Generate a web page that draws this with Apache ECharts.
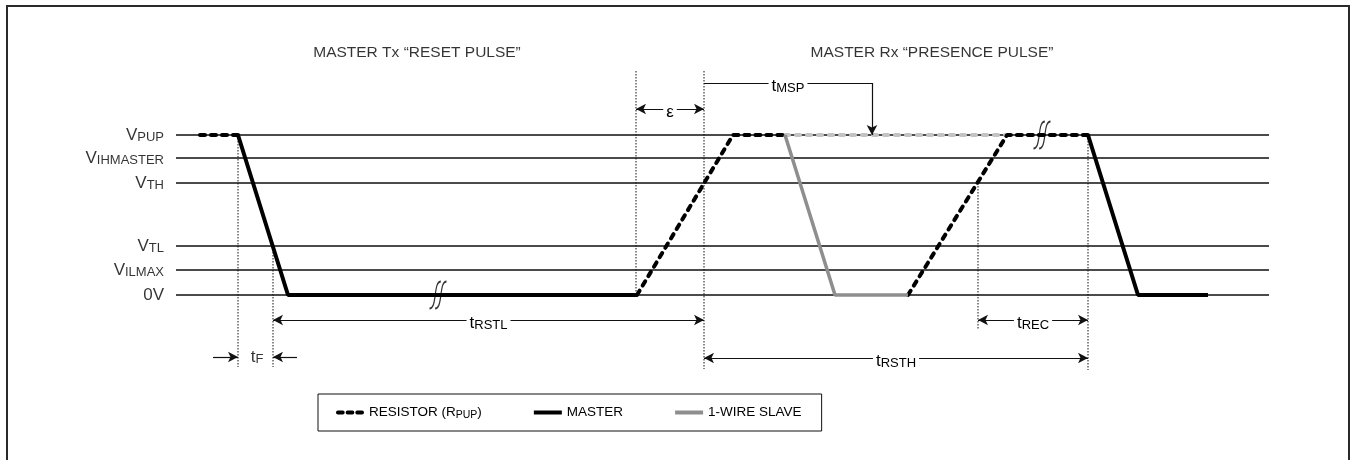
<!DOCTYPE html>
<html>
<head>
<meta charset="utf-8">
<script src="https://cdn.jsdelivr.net/npm/echarts@6/dist/echarts.min.js"></script>
<style>
  html, body { margin: 0; padding: 0; background: #fff; }
  #chart { width: 1351px; height: 460px; }
</style>
</head>
<body>
<div id="chart"></div>
<script>
const FONT = "'Liberation Sans Narrow', 'Arial Narrow', 'Liberation Sans', Arial, sans-serif";

// voltage levels (y, arbitrary units, 0V = 0)
const levelMain = ['V', 'V', 'V', 'V', 'V', '0V'];
const levelSub = ['PUP', 'IHMASTER', 'TH', 'TL', 'ILMAX', ''];
const levelValues = [160, 137, 112, 49, 25, 0];
const levelSpan = [176, 1269];
const labelX = 164;

// waveforms [time, level]
const resistorData = [[200, 160], [238, 160], [null, null], [637, 0], [733, 160], [785, 160], [null, null], [908, 0], [1007, 160], [1088, 160]];
const resistorSlaveData = [[785, 160], [1007, 160]];
const masterData = [[238, 160], [288, 0], [637, 0], [null, null], [1088, 160], [1138, 0], [1208, 0]];
const slaveData = [[785, 160], [835, 0], [908, 0]];

// dotted guides: [x, yTop, yBottom]
const guides = [[238, 160, -72], [273, 49, -72], [636, 224, 0], [704, 224, -74], [978, 112, -35], [1088, 160, -75]];

// break marks
const breakMarks = [[438, 0], [1042, 160]];

// dimension arrows: [name, sub, x1, x2, y]
const spans = [
  ['t', 'RSTL', 273, 704, -25],
  ['t', 'REC', 978, 1088, -25],
  ['t', 'RSTH', 704, 1088, -63],
  ['ε', '', 636, 704, 186]
];
const tF = { x: 257, y: -62, arrows: [[213, 238], [297, 273]] };
const tMSP = { x1: 704, x2: 872, y: 212, yEnd: 160 };

const titles = ['MASTER Tx “RESET PULSE”', 'MASTER Rx “PRESENCE PULSE”'];
const titlePos = [[417, 242], [932, 242]];

const legendNames = ['RESISTOR (RPUP)', 'MASTER', '1-WIRE SLAVE'];

const chart = echarts.init(document.getElementById('chart'), null, { renderer: 'canvas' });

const rich = {
  m: { fontSize: 17, fontFamily: FONT, color: '#000', verticalAlign: 'bottom', lineHeight: 18 },
  s: { fontSize: 13, fontFamily: FONT, color: '#000', verticalAlign: 'bottom', lineHeight: 18 }
};

function richText(main, sub) {
  return sub ? `{m|${main}}{s|${sub}}` : `{m|${main}}`;
}

function levelLines() {
  const out = [];
  levelValues.forEach(v => {
    out.push([levelSpan[0], v], [levelSpan[1], v], [null, null]);
  });
  return out;
}

function guideLines() {
  const out = [];
  guides.forEach(g => {
    out.push([g[0], g[1]], [g[0], g[2]], [null, null]);
  });
  return out;
}

const breakPath = 'path://M2,26 C5,26 6,22 7,14 C8,5 9,1 12,1 M7,26 C10,26 11,22 12,14 C13,5 14,1 17,1';
const dashIcon = 'path://M1,0h5a1,1 0 0 1 0,4h-5a1,1 0 0 1 0,-4z M11,0h5a1,1 0 0 1 0,4h-5a1,1 0 0 1 0,-4z M21,0h5a1,1 0 0 1 0,4h-5a1,1 0 0 1 0,-4z';

const markLineData = [];
spans.forEach(s => {
  markLineData.push([
    { coord: [s[2], s[4]], symbol: 'arrow', label: { show: true, formatter: richText(s[0], s[1]) } },
    { coord: [s[3], s[4]], symbol: 'arrow' }
  ]);
});
tF.arrows.forEach(a => {
  markLineData.push([
    { coord: [a[0], tF.y], symbol: 'none', label: { show: false } },
    { coord: [a[1], tF.y], symbol: 'arrow' }
  ]);
});
markLineData.push([
  { coord: [tMSP.x1, tMSP.y], symbol: 'none', label: { show: true, formatter: richText('t', 'MSP') } },
  { coord: [tMSP.x2, tMSP.y], symbol: 'none' }
]);
markLineData.push([
  { coord: [tMSP.x2, tMSP.y], symbol: 'none', label: { show: false } },
  { coord: [tMSP.x2, tMSP.yEnd], symbol: 'arrow' }
]);

const option = {
  animation: false,
  backgroundColor: '#fff',
  grid: { left: 0, right: 0, top: 0, bottom: 0 },
  xAxis: { type: 'value', min: 0, max: 1351, show: false },
  yAxis: { type: 'value', min: -165, max: 295, show: false },
  graphic: [{
    type: 'rect',
    shape: { x: 7, y: 6, width: 1342, height: 470 },
    style: { fill: 'none', stroke: '#2a2a2a', lineWidth: 2 },
    silent: true
  }],
  legend: {
    data: [
      { name: legendNames[0], icon: dashIcon },
      { name: legendNames[1], icon: 'rect' },
      { name: legendNames[2], icon: 'rect' }
    ],
    left: 318,
    top: 394,
    itemGap: 52,
    itemWidth: 28,
    itemHeight: 4,
    padding: [10, 20, 10, 18],
    borderColor: '#111',
    borderWidth: 1,
    borderRadius: 0,
    selectedMode: false,
    formatter: name => name === legendNames[0] ? 'RESISTOR (R{s|PUP})' : name,
    textStyle: {
      fontFamily: FONT, fontSize: 13.5, color: '#000', lineHeight: 17,
      rich: { s: { fontFamily: FONT, fontSize: 10.5, color: '#000', verticalAlign: 'bottom', lineHeight: 17 } }
    }
  },
  series: [
    {
      name: 'levels',
      type: 'line',
      data: levelLines(),
      symbol: 'none',
      silent: true,
      lineStyle: { color: '#111', width: 1.3 },
      z: 1
    },
    {
      name: 'guides',
      type: 'line',
      data: guideLines(),
      symbol: 'none',
      silent: true,
      lineStyle: { color: '#111', width: 1, type: [1.5, 1.5] },
      z: 1,
      markLine: {
        silent: true,
        symbol: ['arrow', 'arrow'],
        symbolSize: [8, 10],
        lineStyle: { color: '#111', width: 1.2, type: 'solid' },
        label: {
          position: 'middle',
          backgroundColor: '#fff',
          padding: [0, 3],
          rich: rich,
          offset: [0, 17]
        },
        data: markLineData
      }
    },
    {
      name: 'RESISTOR (RPUP)',
      type: 'line',
      data: resistorData,
      symbol: 'none',
      itemStyle: { color: '#000' },
      lineStyle: { color: '#000', width: 4, type: [5, 6], cap: 'round' },
      z: 4
    },
    {
      name: 'resistor-slave',
      type: 'line',
      data: resistorSlaveData,
      symbol: 'none',
      itemStyle: { color: '#c3c3c3' },
      lineStyle: { color: '#c3c3c3', width: 4, type: [4, 7], cap: 'round' },
      z: 3
    },
    {
      name: 'MASTER',
      type: 'line',
      data: masterData,
      symbol: 'none',
      itemStyle: { color: '#000' },
      lineStyle: { color: '#000', width: 4 },
      z: 5
    },
    {
      name: '1-WIRE SLAVE',
      type: 'line',
      data: slaveData,
      symbol: 'none',
      itemStyle: { color: '#8e8e8e' },
      lineStyle: { color: '#8e8e8e', width: 3.5 },
      z: 5
    },
    {
      name: 'labels',
      type: 'scatter',
      silent: true,
      symbolSize: 0,
      data: levelValues.map((v, i) => ({ value: [labelX, v], main: levelMain[i], sub: levelSub[i] })),
      label: {
        show: true,
        position: 'left',
        distance: 0,
        formatter: p => richText(p.data.main, p.data.sub),
        rich: rich
      },
      z: 6
    },
    {
      name: 'texts',
      type: 'scatter',
      silent: true,
      symbolSize: 0,
      data: titles.map((t, i) => ({ value: titlePos[i], text: t }))
        .concat([{ value: [tF.x, tF.y], text: richText('t', 'F') }]),
      label: {
        show: true,
        position: 'inside',
        formatter: p => p.data.text,
        fontFamily: FONT,
        fontSize: 15.5,
        color: '#000',
        rich: rich
      },
      z: 6
    },
    {
      name: 'breaks',
      type: 'scatter',
      silent: true,
      symbol: breakPath,
      symbolSize: [17, 27],
      data: breakMarks,
      itemStyle: { color: 'rgba(0,0,0,0)', borderColor: '#000', borderWidth: 1.5 },
      z: 7
    }
  ]
};

chart.setOption(option);
window.addEventListener('resize', () => chart.resize());
</script>
</body>
</html>
